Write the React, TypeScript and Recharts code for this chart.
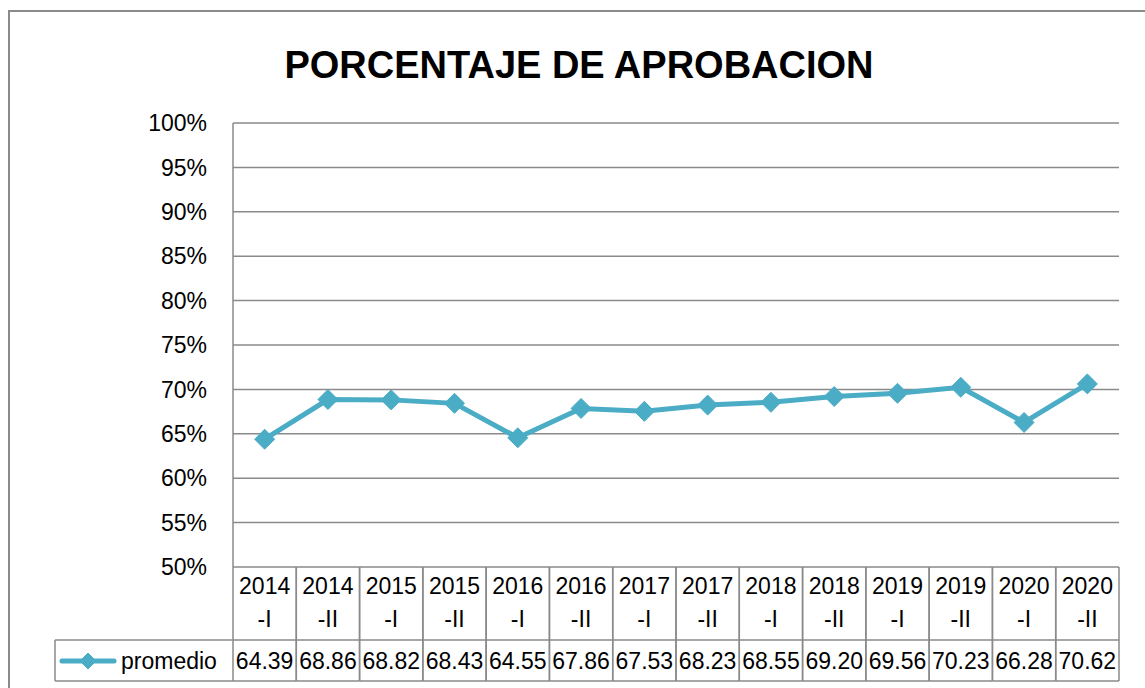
import { LineChart, Line, XAxis, YAxis, CartesianGrid } from 'recharts';

const categories = [
  '2014-I', '2014-II', '2015-I', '2015-II', '2016-I', '2016-II', '2017-I',
  '2017-II', '2018-I', '2018-II', '2019-I', '2019-II', '2020-I', '2020-II',
];
const promedio = [
  64.39, 68.86, 68.82, 68.43, 64.55, 67.86, 67.53,
  68.23, 68.55, 69.2, 69.56, 70.23, 66.28, 70.62,
];
const yTicks = [0.5, 0.55, 0.6, 0.65, 0.7, 0.75, 0.8, 0.85, 0.9, 0.95, 1];
const seriesName = 'promedio';
const title = 'PORCENTAJE DE APROBACION';

const data = categories.map((c, i) => ({
  periodo: c,
  promedio: promedio[i] / 100,
  label: promedio[i].toFixed(2),
}));

const W = 1145;
const H = 688;
const PLOT_LEFT = 233;
const PLOT_RIGHT = 1119;
const PLOT_TOP = 123;
const PLOT_BOTTOM = 567;
const COL_W = (PLOT_RIGHT - PLOT_LEFT) / categories.length;
const ROW_MID = 640;
const ROW_BOTTOM = 681;
const LEGEND_LEFT = 55;

const GRID = '#8a8a8a';
const LINE = '#4BACC6';
const FONT = '"Liberation Sans", Arial, sans-serif';
const FS = 23;

const Diamond = ({ cx, cy, size }: { cx?: number; cy?: number; size: number }) => {
  if (cx == null || cy == null) return null;
  return (
    <polygon
      points={`${cx},${cy - size} ${cx + size},${cy} ${cx},${cy + size} ${cx - size},${cy}`}
      fill={LINE}
      stroke={LINE}
      strokeWidth={1}
    />
  );
};

// category row + value row of the data table, one column per tick
function TableTick({ x, payload, index }: any) {
  const left = x - COL_W / 2;
  const right = x + COL_W / 2;
  const [year, half] = String(payload.value).split('-');
  const lineProps = { stroke: GRID, strokeWidth: 1.5 };
  return (
    <g fontFamily={FONT} fontSize={FS} fill="#000">
      <line x1={left} y1={PLOT_BOTTOM} x2={left} y2={ROW_BOTTOM} {...lineProps} />
      <line x1={right} y1={PLOT_BOTTOM} x2={right} y2={ROW_BOTTOM} {...lineProps} />
      <line x1={left} y1={ROW_MID} x2={right} y2={ROW_MID} {...lineProps} />
      <line x1={left} y1={ROW_BOTTOM} x2={right} y2={ROW_BOTTOM} {...lineProps} />
      <text x={x} y={594} textAnchor="middle">{year}</text>
      <text x={x} y={627} textAnchor="middle">-{half}</text>
      <text x={x} y={669} textAnchor="middle">{data[index]?.label}</text>
      {index === 0 && (
        <g>
          <line x1={LEGEND_LEFT} y1={ROW_MID} x2={left} y2={ROW_MID} {...lineProps} />
          <line x1={LEGEND_LEFT} y1={ROW_BOTTOM} x2={left} y2={ROW_BOTTOM} {...lineProps} />
          <line x1={LEGEND_LEFT} y1={ROW_MID} x2={LEGEND_LEFT} y2={ROW_BOTTOM} {...lineProps} />
          <line x1={62} y1={661} x2={114} y2={661} stroke={LINE} strokeWidth={5} strokeLinecap="round" />
          <Diamond cx={88} cy={661} size={8} />
          <text x={121} y={669} textAnchor="start">{seriesName}</text>
        </g>
      )}
    </g>
  );
}

export default function App() {
  return (
    <div style={{ position: 'absolute', left: 0, top: 0, width: W, height: H, overflow: 'hidden', background: '#fff' }}>
      <svg width={W} height={H} style={{ position: 'absolute', left: 0, top: 0 }}>
        <rect x={9} y={11} width={W + 20} height={H + 20} fill="none" stroke={GRID} strokeWidth={2} />
        <text
          x={579}
          y={78}
          textAnchor="middle"
          fontFamily={FONT}
          fontWeight="bold"
          fontSize={38}
          fill="#000"
        >
          {title}
        </text>
      </svg>
      <div style={{ position: 'absolute', left: 0, top: 0 }}>
        <LineChart
          width={W}
          height={H}
          data={data}
          margin={{ top: PLOT_TOP, right: W - PLOT_RIGHT, bottom: 0, left: PLOT_LEFT - 100 }}
        >
          <CartesianGrid vertical={false} stroke={GRID} strokeWidth={1.5} />
          <XAxis
            dataKey="periodo"
            height={H - PLOT_BOTTOM}
            axisLine={false}
            tickLine={false}
            interval={0}
            padding={{ left: COL_W / 2, right: COL_W / 2 }}
            tick={<TableTick />}
          />
          <YAxis
            width={100}
            domain={[0.5, 1]}
            ticks={yTicks}
            allowDataOverflow
            axisLine={{ stroke: GRID, strokeWidth: 1.5 }}
            tickLine={false}
            tickSize={6}
            tickMargin={20}
            tickFormatter={(v: number) => `${Math.round(v * 100)}%`}
            tick={{ fill: '#000', fontSize: FS, fontFamily: FONT }}
          />
          <Line
            type="linear"
            dataKey="promedio"
            stroke={LINE}
            strokeWidth={5}
            dot={(p: any) => <Diamond key={`d-${p.index}`} cx={p.cx} cy={p.cy} size={10} />}
            activeDot={false}
            isAnimationActive={false}
          />
        </LineChart>
      </div>
    </div>
  );
}
